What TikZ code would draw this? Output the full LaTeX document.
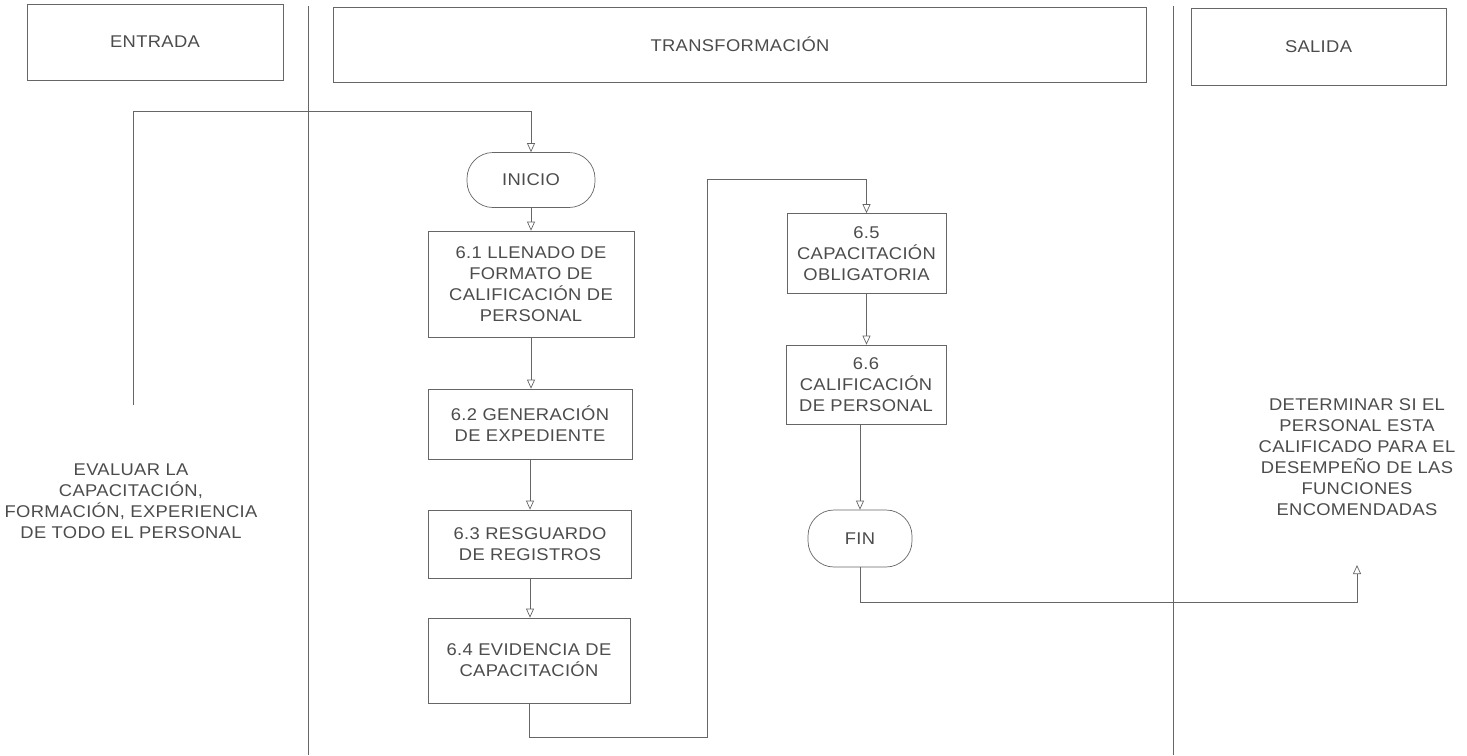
\documentclass[tikz,border=0pt]{standalone}
\usepackage{fontspec}
\setmainfont{Liberation Sans}[FakeStretch=1.08,LetterSpace=2]
\usetikzlibrary{arrows.meta}
\begin{document}
\begin{tikzpicture}[x=1pt,y=-1pt,
  every node/.style={text=black!70, font=\fontsize{17}{21}\selectfont, inner sep=0pt},
  ln/.style={draw=black!60, line width=0.7pt},
  arr/.style={ln, -{Triangle[open,length=9pt,width=8pt]}},
  hdr/.style={ln, draw, rectangle},
  proc/.style={ln, draw, rectangle, align=center},
  term/.style={ln, draw, rectangle, rounded corners=26pt, align=center},
  plain/.style={align=center}]
\useasboundingbox (0,0) rectangle (1467,755);

% headers
\node[hdr, minimum width=256pt, minimum height=76pt] (hent) at (155,42) {ENTRADA};
\node[hdr, minimum width=813pt, minimum height=75pt] (htra) at (740,44.5) {TRANSFORMACIÓN};
\node[hdr, minimum width=255pt, minimum height=77pt] (hsal) at (1318.5,47) {SALIDA};

% lane separators
\coordinate (l1t) at (308,6);
\coordinate (l1b) at (308,755);
\coordinate (l2t) at (1173,6);
\coordinate (l2b) at (1173,755);
\draw[ln] (l1t) -- (l1b);
\draw[ln] (l2t) -- (l2b);

% texts
\node[plain] (ent) at (131,501) {EVALUAR LA\\CAPACITACIÓN,\\FORMACIÓN, EXPERIENCIA\\DE TODO EL PERSONAL};
\node[plain] (sal) at (1357,457) {DETERMINAR SI EL\\PERSONAL ESTA\\CALIFICADO PARA EL\\DESEMPEÑO DE LAS\\FUNCIONES\\ENCOMENDADAS};

% flow nodes
\node[term, minimum width=128pt, minimum height=55pt] (inicio) at (531,180) {INICIO};
\node[proc, minimum width=206pt, minimum height=106pt] (p61) at (531,284) {6.1 LLENADO DE\\FORMATO DE\\CALIFICACIÓN DE\\PERSONAL};
\node[proc, minimum width=204pt, minimum height=70pt] (p62) at (530,424) {6.2 GENERACIÓN\\DE EXPEDIENTE};
\node[proc, minimum width=203pt, minimum height=68pt] (p63) at (530,544) {6.3 RESGUARDO\\DE REGISTROS};
\node[proc, minimum width=202pt, minimum height=85pt] (p64) at (529,660.5) {6.4 EVIDENCIA DE\\CAPACITACIÓN};
\node[proc, minimum width=159pt, minimum height=80pt] (p65) at (866.5,253.5) {6.5\\CAPACITACIÓN\\OBLIGATORIA};
\node[proc, minimum width=160pt, minimum height=79pt] (p66) at (866,384.5) {6.6\\CALIFICACIÓN\\DE PERSONAL};
\node[term, minimum width=104pt, minimum height=57pt] (fin) at (860,538.5) {FIN};

% connectors
\coordinate (ls) at (133,405);
\coordinate (lt) at (133,111);
\draw[arr] (ls) -- (lt) -| (inicio.north);
\draw[arr] (inicio.south) -- (inicio.south |- p61.north);
\draw[arr] (p61.south) -- (p61.south |- p62.north);
\draw[arr] (p62.south) -- (p62.south |- p63.north);
\draw[arr] (p63.south) -- (p63.south |- p64.north);
\coordinate (bb) at (707,737);
\coordinate (bt) at (707,179);
\draw[arr] (p64.south) |- (bb) -- (bt) -| (p65.north);
\draw[arr] (p65.south) -- (p65.south |- p66.north);
\draw[arr] (fin.north |- p66.south) -- (fin.north);
\coordinate (rb) at (1357,602);
\coordinate (rt) at (1357,565);
\draw[arr] (fin.south) |- (rb) -- (rt);
\end{tikzpicture}
\end{document}
